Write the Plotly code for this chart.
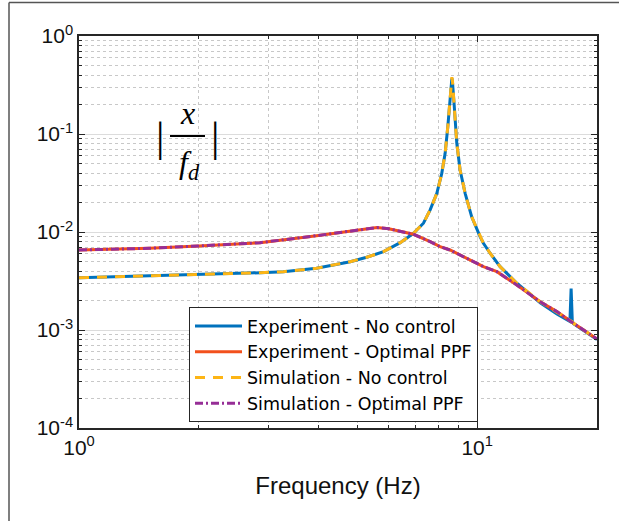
import plotly.graph_objects as go

# ---------------- data ----------------
freq_nc = [1.0, 1.2, 1.5, 2.0, 2.4, 2.85, 3.26, 3.95, 4.80, 5.28, 5.82, 6.41, 6.92,
           7.33, 7.62, 7.92, 8.15, 8.31, 8.44, 8.52, 8.58, 8.61, 8.64, 8.67, 8.70,
           8.75, 8.89, 9.06, 9.33, 9.69, 10.17, 10.37, 10.78, 11.21, 11.42, 12.58,
           14.40, 15.86, 17.10, 17.22, 17.34, 17.46, 19.8, 20.0]
mag_exp_nc = [3.42e-3, 3.48e-3, 3.56e-3, 3.67e-3, 3.75e-3, 3.84e-3, 3.94e-3, 4.26e-3,
              4.98e-3, 5.52e-3, 6.30e-3, 7.78e-3, 9.70e-3, 1.23e-2, 1.68e-2, 2.48e-2,
              3.97e-2, 6.35e-2, 0.119, 0.206, 0.29, 0.34, 0.37, 0.34, 0.29, 0.206,
              0.0804, 0.0429, 0.0248, 0.0143, 8.96e-3, 7.67e-3, 6.07e-3, 4.80e-3,
              4.43e-3, 3.00e-3, 1.90e-3, 1.46e-3, 1.22e-3, 2.65e-3, 1.22e-3, 1.16e-3,
              8.2e-4, 8.0e-4]
mag_sim_nc = [3.42e-3, 3.48e-3, 3.56e-3, 3.67e-3, 3.75e-3, 3.84e-3, 3.94e-3, 4.26e-3,
              4.98e-3, 5.52e-3, 6.30e-3, 7.78e-3, 9.70e-3, 1.23e-2, 1.68e-2, 2.48e-2,
              3.97e-2, 6.35e-2, 0.119, 0.206, 0.29, 0.35, 0.38, 0.35, 0.29, 0.206,
              0.0804, 0.0429, 0.0248, 0.0143, 8.96e-3, 7.67e-3, 6.07e-3, 4.80e-3,
              4.43e-3, 3.00e-3, 1.94e-3, 1.52e-3, 1.26e-3, 1.24e-3, 1.21e-3, 1.17e-3,
              8.22e-4, 8.1e-4]

freq_ppf = [1.0, 1.2, 1.5, 2.0, 2.4, 2.85, 3.95, 4.80, 5.20, 5.60, 6.00, 6.29, 6.92,
            7.62, 8.07, 8.55, 9.42, 10.37, 11.21, 12.58, 14.40, 15.86, 17.46, 19.8, 20.0]
mag_exp_ppf = [6.55e-3, 6.65e-3, 6.82e-3, 7.20e-3, 7.45e-3, 7.78e-3, 9.17e-3, 1.03e-2,
               1.08e-2, 1.11e-2, 1.08e-2, 1.03e-2, 9.48e-3, 7.96e-3, 7.08e-3, 6.55e-3,
               5.39e-3, 4.43e-3, 3.94e-3, 2.88e-3, 1.94e-3, 1.54e-3, 1.17e-3, 8.22e-4, 8.1e-4]
mag_sim_ppf = list(mag_exp_ppf)

names = ["Experiment - No control", "Experiment - Optimal PPF",
         "Simulation - No control", "Simulation - Optimal PPF"]

x_tickvals = [1, 10]
x_ticktext = ["10<sup>0</sup>", "10<sup>1</sup>"]
y_tickvals = [1e-4, 1e-3, 1e-2, 1e-1, 1]
y_ticktext = ["10<sup>-4</sup>", "10<sup>-3</sup>", "10<sup>-2</sup>",
              "10<sup>-1</sup>", "10<sup>0</sup>"]

# ---------------- figure ----------------
W, H = 619, 521
L, R, T, B = 79, 22, 36, 93
FONT = "Liberation Sans, Arial, sans-serif"

fig = go.Figure()
fig.add_trace(go.Scatter(x=freq_nc, y=mag_exp_nc, mode="lines", name=names[0],
                         line=dict(color="#0072BD", width=3)))
fig.add_trace(go.Scatter(x=freq_ppf, y=mag_exp_ppf, mode="lines", name=names[1],
                         line=dict(color="#F2501C", width=3)))
fig.add_trace(go.Scatter(x=freq_nc, y=mag_sim_nc, mode="lines", name=names[2],
                         line=dict(color="#FDB515", width=3, dash="10px,8px")))
fig.add_trace(go.Scatter(x=freq_ppf, y=mag_sim_ppf, mode="lines", name=names[3],
                         line=dict(color="#962E96", width=3, dash="8px,3px,2px,3px")))

minor_x = [2, 3, 4, 5, 6, 7, 8, 9, 20]
minor_y = [m * 10 ** e for e in range(-4, 0) for m in range(2, 10)]

axis_common = dict(
    type="log", showline=True, linecolor="#262626", linewidth=1.5, mirror="allticks",
    ticks="inside", ticklen=6, tickwidth=1.2, tickcolor="#262626",
    showgrid=True, gridcolor="#dcdcdc", gridwidth=1, zeroline=False,
    tickfont=dict(family=FONT, size=21, color="#111111"),
)

fig.update_xaxes(**axis_common, range=[0, 1.30103], tickmode="array",
                 tickvals=x_tickvals, ticktext=x_ticktext,
                 minor=dict(tickmode="array", tickvals=minor_x, ticks="inside", ticklen=3,
                            tickcolor="#262626", showgrid=True, griddash="dot",
                            gridcolor="#c8c8c8", gridwidth=1),
                 title=dict(text="Frequency (Hz)", font=dict(family=FONT, size=24,
                                                            color="#111111"), standoff=19))
fig.update_yaxes(**axis_common, range=[-4, 0], tickmode="array",
                 tickvals=y_tickvals, ticktext=y_ticktext,
                 minor=dict(tickmode="array", tickvals=minor_y, ticks="inside", ticklen=3,
                            tickcolor="#262626", showgrid=True, griddash="dot",
                            gridcolor="#c8c8c8", gridwidth=1))

pw, ph = W - L - R, H - T - B


def px(xp):
    return (xp - L) / pw


def py(yp):
    return (H - B - yp) / ph


# figure border (left + top visible)
fig.add_shape(type="line", xref="paper", yref="paper", x0=px(9), x1=px(9),
              y0=py(2.5), y1=py(540), line=dict(color="#555555", width=1.5))
fig.add_shape(type="line", xref="paper", yref="paper", x0=px(9), x1=px(640),
              y0=py(2.5), y1=py(2.5), line=dict(color="#555555", width=1.5))

# |x / f_d| label
SERIF = "Liberation Serif, DejaVu Serif, serif"
for xb in (160, 215):
    fig.add_annotation(xref="paper", yref="paper", x=px(xb), y=py(137), text="|",
                       xanchor="center", yanchor="middle", showarrow=False,
                       font=dict(family=SERIF, size=42, color="black"))
fig.add_annotation(xref="paper", yref="paper", x=px(187), y=py(113), text="<i>x</i>",
                   xanchor="center", yanchor="middle", showarrow=False,
                   font=dict(family=SERIF, size=32, color="black"))
fig.add_annotation(xref="paper", yref="paper", x=px(189), y=py(164),
                   text="<i>f<sub>d</sub></i>", xanchor="center", yanchor="middle",
                   showarrow=False, font=dict(family=SERIF, size=32, color="black"))
fig.add_shape(type="line", xref="paper", yref="paper", x0=px(170), x1=px(205),
              y0=py(136), y1=py(136), line=dict(color="black", width=2))

fig.update_layout(
    width=W, height=H, margin=dict(l=L, r=R, t=T, b=B),
    paper_bgcolor="white", plot_bgcolor="white",
    showlegend=True,
    legend=dict(x=px(189), y=py(307), xanchor="left", yanchor="top",
                bgcolor="white", bordercolor="#262626", borderwidth=1,
                font=dict(family="DejaVu Sans, Liberation Sans, sans-serif", size=17.5,
                          color="black"),
                tracegroupgap=0, itemwidth=47),
)

fig.write_html("out.html", config={"displayModeBar": False},
               post_script="document.body.style.margin='0px';document.body.style.overflow='hidden';")
